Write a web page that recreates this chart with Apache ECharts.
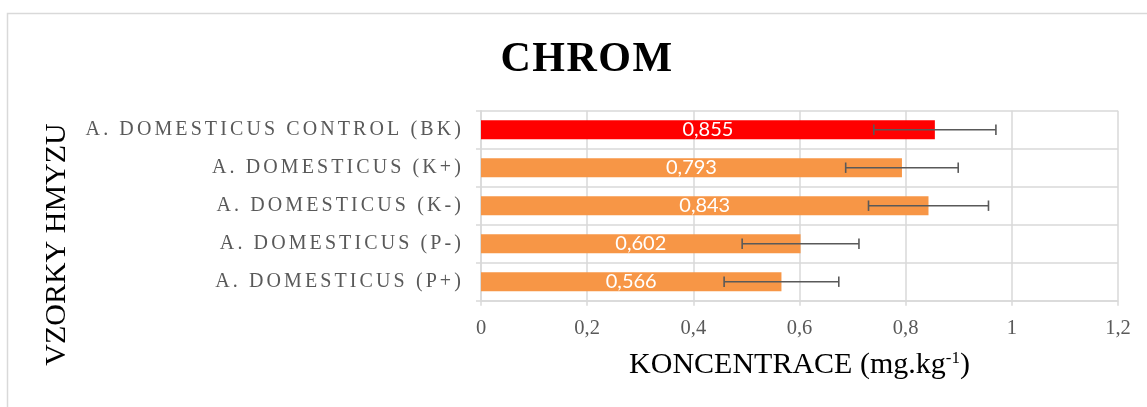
<!DOCTYPE html>
<html>
<head>
<meta charset="utf-8">
<script src="https://cdn.jsdelivr.net/npm/echarts@6/dist/echarts.min.js"></script>
<style>
  html, body { margin: 0; padding: 0; background: #fff; }
  #chart { width: 1147px; height: 407px; }
</style>
</head>
<body>
<div id="chart"></div>
<script>
// data, top row first
var categories = [
  'A. DOMESTICUS CONTROL (BK)',
  'A. DOMESTICUS (K+)',
  'A. DOMESTICUS (K-)',
  'A. DOMESTICUS (P-)',
  'A. DOMESTICUS (P+)'
];
var values = [0.855, 0.793, 0.843, 0.602, 0.566];
var errors = [0.115, 0.106, 0.113, 0.11, 0.108];
var barColors = ['#ff0000', '#f79646', '#f79646', '#f79646', '#f79646'];
var xTicks = { min: 0, max: 1.2, step: 0.2 };

// excel spaces out the category labels and the title a little
function letterSpacingFor(font) {
  if (font.indexOf('20px') >= 0 && font.indexOf('Serif') >= 0) return '3.1px';
  if (font.indexOf('42px') >= 0) return '1.5px';
  return '0px';
}
var proto = CanvasRenderingContext2D.prototype;
var origFillText = proto.fillText;
proto.fillText = function (text, x, y, maxWidth) {
  this.letterSpacing = letterSpacingFor(this.font);
  if (maxWidth === undefined) return origFillText.call(this, text, x, y);
  return origFillText.call(this, text, x, y, maxWidth);
};

function comma(v) {
  return String(v).replace('.', ',');
}

var chart = echarts.init(document.getElementById('chart'), null, { renderer: 'canvas' });

var errData = values.map(function (v, i) {
  return [i, v - errors[i], v + errors[i]];
});

var options = {
  backgroundColor: '#fff',
  animation: false,

  title: {
    text: 'CHROM',
    left: 582,
    top: 34,
    textAlign: 'center',
    textStyle: {
      fontFamily: 'Liberation Serif',
      fontWeight: 'bold',
      fontSize: 42,
      color: '#000',
    },
  },

  grid: {
    left: 481,
    right: 29,
    top: 110.7,
    bottom: 106.3,
    containLabel: false,
  },

  xAxis: {
    type: 'value',
    min: xTicks.min,
    max: xTicks.max,
    interval: xTicks.step,
    axisLine: { show: true, lineStyle: { color: '#d9d9d9', width: 1.5 } },
    axisTick: { show: true, length: 5, lineStyle: { color: '#d9d9d9', width: 1.5 } },
    splitLine: { show: true, lineStyle: { color: '#d9d9d9', width: 1.5 } },
    axisLabel: {
      margin: 17,
      fontFamily: 'Liberation Serif',
      fontSize: 20.5,
      color: '#595959',
      formatter: function (v) {
        return comma(+v.toFixed(1));
      },
    },
    name: '{t|KONCENTRACE (mg.kg}{s|-1}{t|)}',
    nameLocation: 'middle',
    nameGap: 49,
    nameTextStyle: {
      rich: {
        t: { fontFamily: 'Liberation Serif', fontSize: 30, color: '#000', lineHeight: 30 },
        s: { fontFamily: 'Liberation Serif', fontSize: 17, color: '#000', verticalAlign: 'top', lineHeight: 30, padding: [0, 0, 12, 0] },
      },
    },
  },

  yAxis: {
    type: 'category',
    data: categories,
    inverse: true,
    axisLine: { show: true, lineStyle: { color: '#d9d9d9', width: 1.5 } },
    axisTick: { show: true, length: 5, lineStyle: { color: '#d9d9d9', width: 1.5 } },
    splitLine: { show: true, lineStyle: { color: '#d9d9d9', width: 1.5 } },
    axisLabel: {
      interval: 0,
      margin: 17,
      fontFamily: 'Liberation Serif',
      fontSize: 20,
      color: '#595959',
    },
  },

  graphic: [
    {
      type: 'rect',
      shape: { x: 7.5, y: 13.5, width: 1200, height: 500 },
      style: { fill: 'none', stroke: '#d9d9d9', lineWidth: 1.5 },
      silent: true,
    },
    {
      type: 'text',
      x: 57,
      y: 244.5,
      rotation: Math.PI / 2,
      style: {
        text: 'VZORKY HMYZU',
        font: '30px "Liberation Serif"',
        fill: '#000',
        align: 'center',
        verticalAlign: 'middle',
      },
      silent: true,
    },
  ],

  series: [
    {
      type: 'bar',
      barWidth: 19,
      data: values.map(function (v, i) {
        return { value: v, itemStyle: { color: barColors[i] } };
      }),
      label: {
        show: true,
        position: 'inside',
        color: '#fff',
        fontFamily: 'Lato',
        fontSize: 20,
        formatter: function (p) {
          return comma(p.value);
        },
      },
    },
    {
      type: 'custom',
      z: 5,
      data: errData,
      encode: { x: [1, 2], y: 0 },
      renderItem: function (params, api) {
        var cat = api.value(0);
        var a = api.coord([api.value(1), cat]);
        var b = api.coord([api.value(2), cat]);
        var h = 5.2;
        var st = { stroke: '#595959', lineWidth: 1.6 };
        return {
          type: 'group',
          children: [
            { type: 'line', shape: { x1: a[0], y1: a[1], x2: b[0], y2: b[1] }, style: st },
            { type: 'line', shape: { x1: a[0], y1: a[1] - h, x2: a[0], y2: a[1] + h }, style: st },
            { type: 'line', shape: { x1: b[0], y1: b[1] - h, x2: b[0], y2: b[1] + h }, style: st },
          ],
        };
      },
    },
  ],
};

chart.setOption(options);
</script>
</body>
</html>
